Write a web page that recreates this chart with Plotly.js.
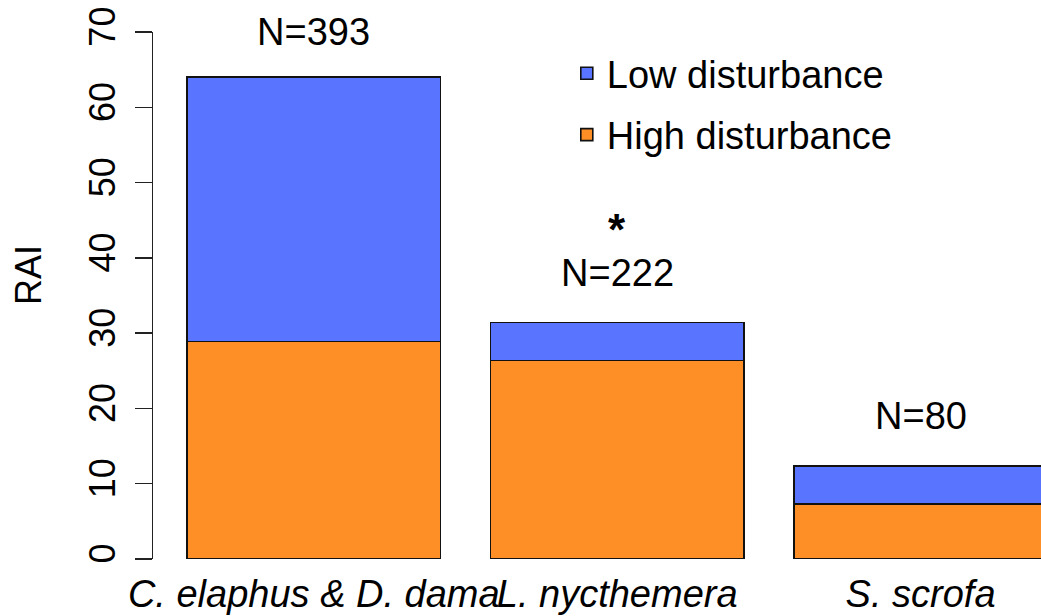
<!DOCTYPE html>
<html>
<head>
<meta charset="utf-8">
<script src="https://cdn.plot.ly/plotly-3.0.1.min.js"></script>
<style>html,body{margin:0;padding:0;background:#fff;}#chart{width:1041px;height:616px;}</style>
</head>
<body>
<div id="chart"></div>
<script>
// Data
var categories = ["C. elaphus & D. dama", "L. nycthemera", "S. scrofa"];
var highDisturbance = [28.9, 26.35, 7.34];
var lowDisturbance = [35.1, 5.04, 5.04];
var sampleSizes = ["N=393", "N=222", "N=80"];
var labelY = [69.96, 38.05, 18.95];
var starCategory = 1;
var starY = 44.85;
var yTicks = [0, 10, 20, 30, 40, 50, 60, 70];

var FONT = "Liberation Sans, Arial, sans-serif";
var BLUE = "#5975ff";
var ORANGE = "#fd8f26";

var idx = categories.map(function (c, i) { return i; });

var traces = [
  {
    type: "bar", name: "High disturbance", x: idx, y: highDisturbance,
    width: 0.8355, legendgroup: "h", legendrank: 2,
    marker: { color: ORANGE, line: { color: "#111", width: 1.6 } },
    hoverinfo: "skip"
  },
  {
    type: "bar", name: "Low disturbance", x: idx, y: lowDisturbance,
    width: 0.8355, legendgroup: "l", legendrank: 1,
    marker: { color: BLUE, line: { color: "#111", width: 1.6 } },
    hoverinfo: "skip"
  }
];

var annotations = sampleSizes.map(function (t, i) {
  return { x: i, y: labelY[i], xref: "x", yref: "y", text: t, showarrow: false,
    font: { family: FONT, size: 38, color: "#000" }, xanchor: "center", yanchor: "middle" };
});
annotations.push({ x: starCategory, y: starY, xref: "x", yref: "y", text: "<b>*</b>", showarrow: false,
  font: { family: FONT, size: 44, color: "#000" }, xanchor: "center", yanchor: "middle", yshift: -8 });
annotations.push({ x: 0, xref: "paper", xshift: -124, y: 0.539, yref: "paper", text: "RAI",
  textangle: -90, showarrow: false, font: { family: FONT, size: 36, color: "#000" },
  xanchor: "center", yanchor: "middle" });

var layout = {
  width: 1041, height: 616,
  margin: { l: 153, r: 0, t: 32, b: 57, pad: 0 },
  paper_bgcolor: "#fff", plot_bgcolor: "#fff",
  barmode: "stack",
  showlegend: true,
  legend: {
    x: 0.466, xanchor: "left", y: 0.981, yanchor: "top",
    traceorder: "grouped", tracegroupgap: 9,
    font: { family: FONT, size: 38, color: "#000" },
    bgcolor: "rgba(0,0,0,0)", itemwidth: 30
  },
  xaxis: {
    range: [-0.530, 2.397], tickmode: "array", tickvals: idx,
    ticktext: categories.map(function (c) { return "<i>" + c + "</i>"; }),
    tickangle: 0, ticks: "", showline: false, showgrid: false, zeroline: false,
    tickfont: { family: FONT, size: 38, color: "#000" }, ticklabelstandoff: 9
  },
  yaxis: {
    range: [0, 70], tickmode: "array", tickvals: yTicks,
    ticks: "outside", ticklen: 17, tickwidth: 1.3, tickcolor: "#222",
    showline: true, linecolor: "#222", linewidth: 1.3,
    showgrid: false, zeroline: false, tickangle: -90,
    tickfont: { family: FONT, size: 36, color: "#000" }, ticklabelstandoff: 5
  },
  annotations: annotations
};

Plotly.newPlot("chart", traces, layout, { displayModeBar: false, staticPlot: true });
</script>
</body>
</html>
